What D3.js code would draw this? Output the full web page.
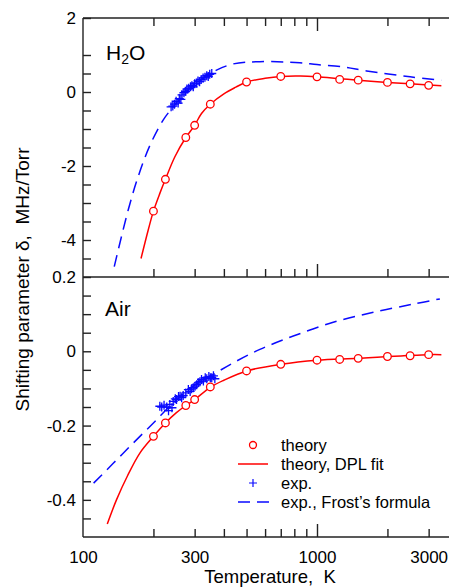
<!DOCTYPE html>
<html><head><meta charset="utf-8">
<script src="https://cdn.jsdelivr.net/npm/d3@7"></script>
<style>
html,body{margin:0;padding:0;background:#fff;overflow:hidden}
text{font-family:"Liberation Sans",Arial,sans-serif;fill:#000}
</style></head>
<body><svg id="c" width="449" height="587"></svg>
<script>
// ---------- data ----------
const xMinorTicks = [200,300,400,500,600,700,800,900,2000,3000];
const xMajorTicks = [1000];
const xTickLabels = [100,300,1000,3000];

const h2oTickLabels = [2,0,-2,-4];
const h2oMinorTicks = [1,0.5,-0.5,-1,-1.5,-2.5,-3,-3.5,-4.5];
const airTickLabels = [0.2,0,-0.2,-0.4];
const airMinorTicks = [0.15,0.1,0.05,-0.05,-0.1,-0.15,-0.25,-0.3,-0.35,-0.45];

const theoryT = [200,225,275,300,350,500,700,1000,1250,1500,2000,2500,3000];
const h2oTheory = [-3.22,-2.36,-1.23,-0.90,-0.33,0.27,0.42,0.41,0.34,0.32,0.26,0.22,0.18];
const airTheory = [-0.229,-0.193,-0.146,-0.130,-0.096,-0.053,-0.035,-0.024,-0.022,-0.019,-0.014,-0.012,-0.009];

const h2oFitT = [177,190,200,213,225,247,275,300,321,350,400,450,500,600,700,850,1000,1250,1500,2000,2500,3000,3400];
const h2oFit  = [-4.50,-3.73,-3.22,-2.74,-2.36,-1.75,-1.23,-0.90,-0.58,-0.33,-0.05,0.13,0.27,0.37,0.42,0.43,0.41,0.36,0.32,0.26,0.22,0.19,0.17];

const h2oFrostT = [136,156,172,193,220,243,280,320,372,439,570,844,1000,1294,1630,2500,3400];
const h2oFrost  = [-4.72,-3.19,-2.29,-1.45,-0.76,-0.40,0.05,0.33,0.59,0.76,0.82,0.79,0.74,0.68,0.57,0.41,0.32];

const h2oExpT = [238,242,246,250,255,258,262,265,270,274,278,283,288,292,296,300,305,310,315,320,326,332,338,343,348,355];
const h2oExp  = [-0.40,-0.38,-0.33,-0.25,-0.30,-0.18,-0.20,-0.08,-0.02,0.02,0.08,0.10,0.14,0.17,0.14,0.22,0.24,0.30,0.28,0.34,0.38,0.40,0.44,0.42,0.48,0.50];

const airFitT = [127,139,155,175,200,225,250,275,300,350,400,500,700,1000,1500,2000,3000,3400];
const airFit  = [-0.465,-0.40,-0.335,-0.274,-0.229,-0.193,-0.166,-0.146,-0.130,-0.097,-0.078,-0.053,-0.035,-0.024,-0.019,-0.014,-0.009,-0.009];

const airFrostT = [111,135,164,200,243,296,361,439,570,792,1173,1741,2577,3350];
const airFrost  = [-0.355,-0.301,-0.247,-0.193,-0.139,-0.094,-0.062,-0.031,0.005,0.041,0.078,0.105,0.127,0.141];

const airExpT = [213,217,222,228,232,235,240,243,248,251,256,260,264,268,275,282,287,291,296,301,306,311,316,321,327,333,338,345,350,355,361,366];
const airExp  = [-0.148,-0.150,-0.145,-0.150,-0.160,-0.143,-0.152,-0.135,-0.128,-0.130,-0.122,-0.121,-0.125,-0.119,-0.112,-0.103,-0.108,-0.101,-0.098,-0.094,-0.090,-0.085,-0.082,-0.076,-0.080,-0.071,-0.074,-0.068,-0.071,-0.071,-0.066,-0.074];

const legendLabels = ["theory","theory, DPL fit","exp.","exp., Frost\u2019s formula"];

// ---------- layout ----------
const RED = "#ff0000", BLUE = "#0a0aff", AX = "#222";
const L = 83, TOP = 18, MID = 277, BOT = 537;
const svg = d3.select("#c");
const x = d3.scaleLog().domain([100,4000]).range([L, L + 234*Math.log10(40)]);
const yTop = d3.scaleLinear().domain([-5,2]).range([MID,TOP]);
const yBot = d3.scaleLinear().domain([-0.5,0.2]).range([BOT,MID]);

function zip(a,b){return a.map((v,i)=>[v,b[i]]);}

// frame
const frame = svg.append("g").attr("stroke",AX).attr("stroke-width",1.4);
[TOP,MID,BOT].forEach(yy=>frame.append("line").attr("x1",L).attr("x2",460).attr("y1",yy).attr("y2",yy));
frame.append("line").attr("x1",L).attr("x2",L).attr("y1",TOP).attr("y2",BOT);

function xTicks(yy, dir){
  const mk = (vals,len)=>{
    const ax = (dir>0? d3.axisTop(x) : d3.axisBottom(x)).tickValues(vals).tickSize(-len).tickFormat("");
    const g = svg.append("g").attr("transform",`translate(0,${yy})`).call(ax);
    g.select(".domain").remove();
    g.selectAll("line").attr("stroke",AX).attr("stroke-width",1.4);
  };
  mk(xMinorTicks,8); mk(xMajorTicks,13);
}
xTicks(TOP,1); xTicks(MID,-1); xTicks(BOT,-1);

// x labels
{
  const g = svg.append("g").attr("transform",`translate(0,${BOT})`)
    .call(d3.axisBottom(x).tickValues(xTickLabels).tickSize(0).tickPadding(14).tickFormat(d3.format("d")));
  g.select(".domain").remove();
  g.selectAll("text").attr("font-size",17).attr("font-family","Liberation Sans, Arial, sans-serif");
}

function yAxis(scale, labels, minors){
  const g = svg.append("g").attr("transform",`translate(${L},0)`)
    .call(d3.axisLeft(scale).tickValues(labels).tickSize(0).tickPadding(7).tickFormat(d=>String(d)));
  g.select(".domain").remove();
  g.selectAll("text").attr("font-size",17).attr("font-family","Liberation Sans, Arial, sans-serif");
  const t = svg.append("g").attr("transform",`translate(${L},0)`)
    .call(d3.axisRight(scale).tickValues(labels.concat(minors)).tickSize(8).tickFormat(""));
  t.select(".domain").remove();
  t.selectAll("line").attr("stroke",AX).attr("stroke-width",1.4);
}
yAxis(yTop, h2oTickLabels, h2oMinorTicks);
yAxis(yBot, airTickLabels, airMinorTicks);

// curves
const lineGen = ys => d3.line().x(d=>x(d[0])).y(d=>ys(d[1])).curve(d3.curveCatmullRom.alpha(0.5));
function panel(ys, fitT, fit, frT, fr, thT, th, exT, ex){
  svg.append("path").datum(zip(frT,fr)).attr("d",lineGen(ys)).attr("fill","none")
    .attr("stroke",BLUE).attr("stroke-width",1.5).attr("stroke-dasharray","12,7");
  svg.append("path").datum(zip(fitT,fit)).attr("d",lineGen(ys)).attr("fill","none")
    .attr("stroke",RED).attr("stroke-width",1.5);
  svg.append("g").selectAll("path").data(zip(exT,ex)).join("path")
    .attr("transform",d=>`translate(${x(d[0])},${ys(d[1])})`)
    .attr("d","M-4.5,0H4.5M0,-4.5V4.5").attr("stroke",BLUE).attr("stroke-width",1.3).attr("fill","none");
  svg.append("g").selectAll("circle").data(zip(thT,th)).join("circle")
    .attr("cx",d=>x(d[0])).attr("cy",d=>ys(d[1])).attr("r",3.8)
    .attr("fill","#fff").attr("stroke",RED).attr("stroke-width",1.3);
}
panel(yTop, h2oFitT,h2oFit,h2oFrostT,h2oFrost,theoryT,h2oTheory,h2oExpT,h2oExp);
panel(yBot, airFitT,airFit,airFrostT,airFrost,theoryT,airTheory,airExpT,airExp);

// panel labels
const h = svg.append("text").attr("x",106).attr("y",60).attr("font-size",21);
h.append("tspan").text("H");
h.append("tspan").attr("font-size",14).attr("dy",4).text("2");
h.append("tspan").attr("dy",-4).text("O");
svg.append("text").attr("x",105).attr("y",316).attr("font-size",21).text("Air");

// axis titles
svg.append("text").attr("x",270).attr("y",582.5).attr("text-anchor","middle").attr("font-size",18.5)
  .style("white-space","pre").text("Temperature,  K");
svg.append("text").attr("transform","translate(29,279.5) rotate(-90)").attr("text-anchor","middle")
  .attr("font-size",19).style("white-space","pre").text("Shifting parameter \u03B4,  MHz/Torr");

// legend
const rows = [445,464,483,502];
const lg = svg.append("g");
lg.append("circle").attr("cx",253).attr("cy",rows[0]).attr("r",3.5).attr("fill","#fff").attr("stroke",RED).attr("stroke-width",1.3);
lg.append("line").attr("x1",238).attr("x2",268).attr("y1",rows[1]).attr("y2",rows[1]).attr("stroke",RED).attr("stroke-width",1.5);
lg.append("path").attr("transform",`translate(253,${rows[2]})`).attr("d","M-4,0H4M0,-4V4").attr("stroke",BLUE).attr("stroke-width",1.2);
lg.append("line").attr("x1",238).attr("x2",271).attr("y1",rows[3]).attr("y2",rows[3]).attr("stroke",BLUE).attr("stroke-width",1.5).attr("stroke-dasharray","12,7");
lg.selectAll("text.l").data(legendLabels).join("text").attr("class","l")
  .attr("x",281).attr("y",(d,i)=>rows[i]+5.5).attr("font-size",16.5).text(d=>d);
</script></body></html>
